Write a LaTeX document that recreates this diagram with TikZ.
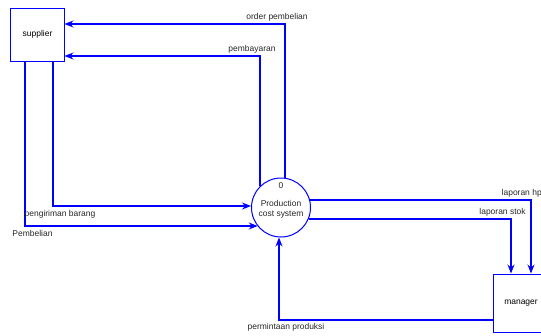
\documentclass[tikz,border=0pt]{standalone}
\usepackage{fontspec}
\setmainfont{Liberation Sans}
\usetikzlibrary{arrows.meta,calc}
\definecolor{dfdblue}{RGB}{0,0,255}
\tikzset{
  ent/.style={draw=dfdblue,line width=1bp,minimum width=53bp,minimum height=53bp,inner sep=0pt,font=\fontsize{8.5}{10}\selectfont},
  proc/.style={draw=dfdblue,line width=1bp,circle,minimum size=59bp,inner sep=0pt,font=\fontsize{8.5}{10}\selectfont,align=center},
  flow/.style={draw=dfdblue,line width=1.1bp,-{Stealth[length=9bp,width=7bp,inset=3bp]}},
  lbl/.style={font=\fontsize{8.5}{10}\selectfont,text=black!85,inner sep=0pt}
}
\begin{document}
\begin{tikzpicture}[x=1bp,y=-1bp]
\useasboundingbox (0,0) rectangle (541,335);
\node[ent] (S) at (37.5,34.5) {supplier};
\node[ent,minimum width=56bp,minimum height=58bp] (M) at (521,303) {manager};
\node[proc] (P) at (281,207.5) {};
\node[lbl] (p0) at (281,186) {0};
\node[lbl] (p1) at (281,203) {Production};
\node[lbl] (p2) at (281,214.5) {cost system};

\coordinate (c1) at (285,24);
\coordinate (c2) at (260,56);
\coordinate (c3) at (53,206);
\coordinate (c4) at (25,226);
\coordinate (c5) at (531,200);
\coordinate (c6) at (511,219);
\coordinate (c7) at (279,320);

\draw[flow] (P.82 -| c1) |- (S.east |- c1);
\draw[flow] (c2 |- P.135) |- (S.east |- c2);
\draw[flow] (c3 |- S.south) |- (P.west |- c3);
\draw[flow] (c4 |- S.south) |- (P.219 |- c4);
\draw[flow] (P.15 |- c5) -| (M.north -| c5);
\draw[flow] (P.-23 |- c6) -| (M.north -| c6);
\draw[flow] (M.west |- c7) -| (P.south -| c7);

\node[lbl] (l1) at (277,17) {order pembelian};
\node[lbl] (l2) at (252,49) {pembayaran};
\node[lbl] (l3) at (60,214) {pengiriman barang};
\node[lbl] (l4) at (32.5,233) {Pembelian};
\node[lbl,anchor=west] (l5) at (501.5,193) {laporan hpp};
\node[lbl] (l6) at (502.5,212) {laporan stok};
\node[lbl] (l7) at (286,327) {permintaan produksi};
\end{tikzpicture}
\end{document}
